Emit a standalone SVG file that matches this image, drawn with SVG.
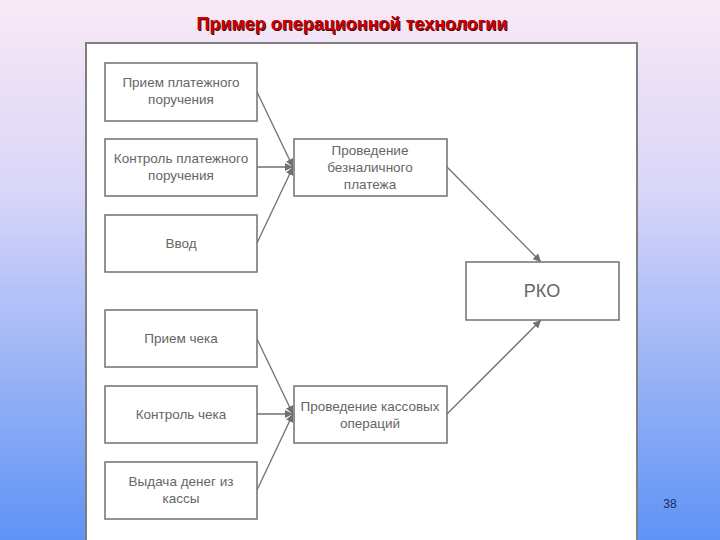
<svg xmlns="http://www.w3.org/2000/svg" width="720" height="540" viewBox="0 0 720 540">
<defs>
<linearGradient id="bg" x1="0" y1="0" x2="0" y2="1">
<stop offset="0" stop-color="#f8e9f6"/>
<stop offset="0.35" stop-color="#d9d6f8"/>
<stop offset="1" stop-color="#5f93f5"/>
</linearGradient>
<marker id="arr" viewBox="0 0 10 10" refX="10" refY="5" markerWidth="8" markerHeight="8" markerUnits="userSpaceOnUse" orient="auto">
<path d="M0,0 L10,5 L0,10 Z" fill="#707070"/>
</marker>
<style>
.box{fill:#ffffff;stroke:#707070;stroke-width:1.5}
.t{font-family:"Liberation Sans",Arial,sans-serif;font-size:13.5px;fill:#666666;text-anchor:middle}
.c{stroke:#707070;stroke-width:1.3;fill:none;marker-end:url(#arr)}
</style>
</defs>
<rect x="0" y="0" width="720" height="540" fill="url(#bg)"/>
<text x="352" y="30" font-family="Liberation Sans,Arial,sans-serif" font-size="18" font-weight="bold" text-anchor="middle" fill="#400000" transform="translate(1,1)">Пример операционной технологии</text>
<text x="352" y="30" font-family="Liberation Sans,Arial,sans-serif" font-size="18" font-weight="bold" text-anchor="middle" fill="#cc0000">Пример операционной технологии</text>
<rect x="86" y="43" width="551" height="500" fill="#ffffff" stroke="#7f7f7f" stroke-width="2"/>
<g id="connectors">
<line class="c" x1="257" y1="92" x2="293" y2="167"/>
<line class="c" x1="257" y1="167" x2="293" y2="167"/>
<line class="c" x1="257" y1="243" x2="293" y2="167"/>
<line class="c" x1="257" y1="339" x2="293" y2="414"/>
<line class="c" x1="257" y1="414" x2="293" y2="414"/>
<line class="c" x1="257" y1="490" x2="293" y2="414"/>
<line class="c" x1="447" y1="167" x2="541" y2="262"/>
<line class="c" x1="447" y1="414" x2="541" y2="320"/>
</g>
<g id="n1"><rect class="box" x="105" y="63" width="152" height="58"/><text class="t" x="181" y="87">Прием платежного</text><text class="t" x="181" y="104">поручения</text></g>
<g id="n2"><rect class="box" x="105" y="139" width="152" height="57"/><text class="t" x="181" y="163">Контроль платежного</text><text class="t" x="181" y="180">поручения</text></g>
<g id="n3"><rect class="box" x="105" y="215" width="152" height="57"/><text class="t" x="181" y="248">Ввод</text></g>
<g id="n4"><rect class="box" x="105" y="310" width="152" height="57"/><text class="t" x="181" y="343">Прием чека</text></g>
<g id="n5"><rect class="box" x="105" y="386" width="152" height="57"/><text class="t" x="181" y="419">Контроль чека</text></g>
<g id="n6"><rect class="box" x="105" y="462" width="152" height="57"/><text class="t" x="181" y="486">Выдача денег из</text><text class="t" x="181" y="503">кассы</text></g>
<g id="m1"><rect class="box" x="294" y="139" width="153" height="57"/><text class="t" x="370" y="155">Проведение</text><text class="t" x="370" y="172">безналичного</text><text class="t" x="370" y="189">платежа</text></g>
<g id="m2"><rect class="box" x="294" y="386" width="153" height="57"/><text class="t" x="370" y="411">Проведение кассовых</text><text class="t" x="370" y="428">операций</text></g>
<g id="rko"><rect class="box" x="466" y="262" width="153" height="58"/><text class="t" x="542" y="297" style="font-size:18px">РКО</text></g>
<text x="670" y="508" font-family="Liberation Sans,Arial,sans-serif" font-size="12" fill="#1a2a6a" text-anchor="middle">38</text>
</svg>
